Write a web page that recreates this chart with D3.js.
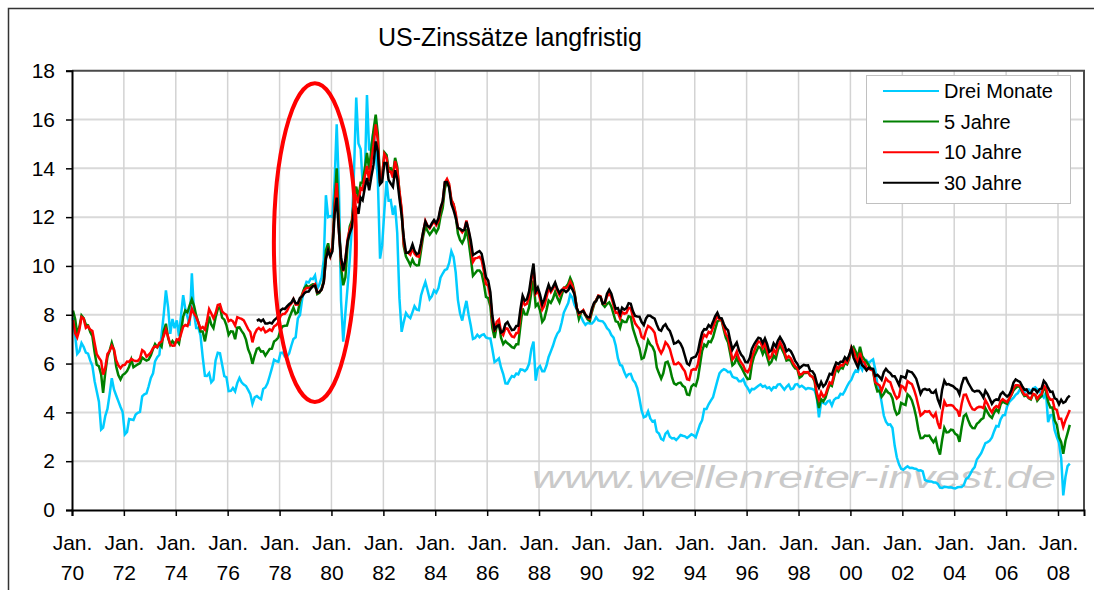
<!DOCTYPE html>
<html>
<head>
<meta charset="utf-8">
<script src="https://cdn.jsdelivr.net/npm/d3@7"></script>
<style>
  body { margin: 0; background: #fff; }
  svg { display: block; font-family: Arial, "Liberation Sans", sans-serif; }
</style>
</head>
<body>
<script>
// Monthly values, Jan 1970 - Jun 2008 (one row per year)
const threeMonth = [
  7.87, 7.13, 6.40, 6.51, 6.84, 6.68, 6.45, 6.41, 6.12, 5.91, 5.28, 4.87,
  4.44, 3.30, 3.38, 3.86, 4.14, 4.75, 5.40, 4.94, 4.69, 4.46, 4.22, 4.01,
  3.10, 3.20, 3.73, 3.71, 3.69, 3.91, 3.98, 4.02, 4.66, 4.74, 4.78, 5.07,
  5.41, 5.60, 6.09, 6.26, 6.36, 7.19, 8.01, 9.00, 8.29, 7.22, 7.83, 7.45,
  7.77, 7.12, 7.96, 8.80, 8.23, 7.90, 7.55, 9.70, 8.06, 7.46, 7.47, 7.15,
  6.26, 5.50, 5.49, 5.61, 5.23, 5.34, 6.13, 6.44, 6.42, 5.96, 5.48, 5.44,
  4.87, 4.88, 5.00, 4.86, 5.20, 5.41, 5.23, 5.14, 5.08, 4.92, 4.75, 4.35,
  4.62, 4.67, 4.60, 4.54, 4.96, 5.02, 5.19, 5.49, 5.81, 6.16, 6.10, 6.07,
  6.44, 6.45, 6.29, 6.29, 6.41, 6.73, 7.01, 7.08, 7.85, 7.99, 8.64, 9.08,
  9.35, 9.32, 9.48, 9.46, 9.61, 9.06, 9.24, 9.52, 10.26, 12.90, 12.00, 12.04,
  12.00, 13.50, 15.80, 13.20, 8.58, 6.90, 8.06, 9.13, 10.27, 11.62, 14.00, 16.90,
  15.02, 14.79, 13.36, 13.69, 17.00, 14.73, 14.95, 15.51, 14.70, 13.54, 10.30, 10.85,
  12.28, 13.48, 12.68, 12.70, 12.09, 12.47, 11.35, 8.68, 7.30, 7.71, 8.07, 7.94,
  7.86, 8.11, 8.35, 8.21, 8.19, 8.79, 9.08, 9.34, 9.00, 8.64, 8.76, 9.00,
  8.90, 9.09, 9.52, 9.69, 9.83, 9.87, 10.12, 10.60, 10.37, 9.74, 8.61, 8.06,
  7.76, 8.22, 8.57, 8.00, 7.56, 7.01, 7.05, 7.18, 7.08, 7.17, 7.20, 7.07,
  7.04, 7.03, 6.59, 6.06, 6.12, 6.21, 5.84, 5.57, 5.19, 5.18, 5.35, 5.49,
  5.45, 5.59, 5.56, 5.76, 5.75, 5.69, 5.78, 6.00, 6.60, 6.90, 5.30, 5.80,
  5.90, 5.69, 5.69, 5.92, 6.27, 6.50, 6.73, 7.02, 7.23, 7.34, 7.68, 8.09,
  8.29, 8.48, 8.83, 8.70, 8.40, 8.22, 7.92, 7.91, 7.72, 7.59, 7.67, 7.64,
  7.64, 7.74, 7.90, 7.77, 7.74, 7.73, 7.62, 7.45, 7.36, 7.17, 7.06, 6.74,
  6.22, 5.94, 5.91, 5.65, 5.46, 5.57, 5.58, 5.33, 5.22, 4.99, 4.56, 4.07,
  3.80, 3.84, 4.04, 3.75, 3.63, 3.66, 3.21, 3.13, 2.91, 2.86, 3.13, 3.22,
  3.00, 2.93, 2.95, 2.87, 2.96, 3.07, 3.04, 3.02, 2.95, 3.02, 3.10, 3.06,
  2.98, 3.25, 3.50, 3.68, 4.14, 4.14, 4.33, 4.48, 4.62, 4.95, 5.29, 5.60,
  5.71, 5.77, 5.73, 5.65, 5.67, 5.47, 5.42, 5.40, 5.28, 5.28, 5.36, 5.14,
  5.00, 4.83, 4.96, 4.95, 5.02, 5.09, 5.15, 5.05, 5.09, 4.99, 5.03, 4.91,
  5.03, 5.01, 5.14, 5.16, 5.05, 4.93, 5.05, 5.14, 4.95, 4.97, 5.14, 5.16,
  5.04, 5.09, 5.03, 4.95, 5.00, 4.98, 4.96, 4.90, 4.61, 3.80, 4.41, 4.39,
  4.34, 4.45, 4.48, 4.28, 4.51, 4.59, 4.60, 4.76, 4.73, 4.88, 5.07, 5.23,
  5.34, 5.57, 5.72, 5.67, 5.92, 5.74, 6.03, 6.13, 6.01, 6.11, 6.17, 5.77,
  5.15, 4.88, 4.42, 3.87, 3.62, 3.49, 3.51, 3.36, 2.64, 2.16, 1.87, 1.69,
  1.65, 1.73, 1.79, 1.72, 1.73, 1.70, 1.68, 1.62, 1.63, 1.58, 1.23, 1.19,
  1.17, 1.17, 1.13, 1.13, 1.07, 0.92, 0.90, 0.95, 0.94, 0.92, 0.93, 0.90,
  0.88, 0.93, 0.94, 0.94, 1.02, 1.27, 1.33, 1.48, 1.65, 1.76, 2.07, 2.19,
  2.33, 2.54, 2.74, 2.78, 2.84, 2.97, 3.22, 3.44, 3.42, 3.71, 3.88, 3.89,
  4.24, 4.43, 4.51, 4.60, 4.72, 4.79, 4.95, 4.96, 4.81, 4.92, 4.94, 4.85,
  4.98, 5.03, 4.94, 4.87, 4.73, 4.61, 4.82, 3.60, 3.89, 3.90, 3.27, 3.00,
  2.75, 2.12, 0.60, 1.35, 1.80, 1.90
];

const fiveYear = [
  8.17, 7.82, 7.21, 7.50, 7.97, 7.85, 7.59, 7.57, 7.29, 7.12, 6.47, 5.95,
  5.89, 5.56, 4.80, 5.65, 6.28, 6.53, 6.85, 6.55, 5.88, 5.53, 5.35, 5.53,
  5.59, 5.69, 5.87, 6.17, 5.85, 5.91, 5.97, 6.02, 6.25, 6.18, 6.12, 6.16,
  6.34, 6.60, 6.80, 6.67, 6.80, 6.69, 7.33, 7.63, 7.05, 6.77, 6.92, 6.80,
  6.95, 6.82, 7.31, 7.92, 8.18, 8.10, 8.38, 8.63, 8.37, 7.97, 7.68, 7.31,
  7.31, 6.91, 7.35, 7.93, 7.60, 7.45, 7.89, 8.23, 8.33, 7.88, 7.80, 7.57,
  7.18, 7.32, 7.31, 7.00, 7.47, 7.48, 7.34, 7.21, 6.98, 6.59, 6.37, 5.99,
  6.33, 6.60, 6.64, 6.49, 6.50, 6.33, 6.46, 6.60, 6.61, 6.90, 6.97, 7.07,
  7.39, 7.53, 7.55, 7.56, 7.85, 8.08, 8.29, 8.04, 8.10, 8.54, 8.84, 9.08,
  9.20, 9.13, 9.20, 9.25, 9.24, 8.85, 8.90, 9.06, 9.41, 10.63, 10.93, 10.42,
  10.74, 12.60, 14.00, 11.84, 9.95, 9.21, 9.53, 10.84, 11.62, 11.86, 12.83, 13.25,
  12.77, 13.41, 13.41, 13.99, 14.63, 13.95, 14.79, 15.56, 16.20, 15.41, 13.38, 13.60,
  14.65, 14.54, 13.98, 14.00, 13.75, 14.43, 14.07, 13.00, 12.25, 10.80, 10.38, 10.22,
  10.03, 10.26, 10.08, 10.02, 10.03, 10.63, 11.21, 11.63, 11.43, 11.28, 11.41, 11.54,
  11.37, 11.54, 12.02, 12.37, 13.17, 13.48, 13.27, 12.68, 12.53, 12.06, 11.33, 11.07,
  10.93, 11.13, 11.52, 11.01, 10.34, 9.60, 9.70, 9.81, 9.81, 9.69, 9.28, 8.73,
  8.68, 8.34, 7.46, 7.05, 7.52, 7.64, 7.06, 6.80, 6.92, 6.83, 6.76, 6.67,
  6.64, 6.79, 6.79, 7.57, 8.26, 8.02, 8.01, 8.32, 8.94, 9.40, 8.35, 8.45,
  8.18, 7.71, 7.83, 8.19, 8.58, 8.49, 8.66, 8.94, 8.69, 8.51, 8.79, 9.09,
  9.15, 9.27, 9.51, 9.30, 8.91, 8.29, 7.83, 8.09, 8.17, 7.97, 7.81, 7.75,
  8.12, 8.42, 8.60, 8.77, 8.74, 8.43, 8.33, 8.44, 8.51, 8.33, 8.02, 7.73,
  7.70, 7.47, 7.77, 7.70, 7.70, 7.94, 7.91, 7.43, 7.14, 6.87, 6.62, 6.19,
  6.24, 6.58, 6.95, 6.78, 6.69, 6.48, 5.84, 5.60, 5.38, 5.60, 6.04, 6.08,
  5.83, 5.43, 5.19, 5.13, 5.20, 5.22, 5.09, 5.03, 4.73, 4.71, 5.06, 5.15,
  5.09, 5.40, 5.94, 6.52, 6.78, 6.70, 6.91, 6.88, 7.08, 7.40, 7.72, 7.78,
  7.76, 7.37, 7.05, 6.86, 6.41, 5.93, 6.01, 6.24, 6.00, 5.86, 5.69, 5.51,
  5.36, 5.38, 5.97, 6.30, 6.48, 6.69, 6.64, 6.39, 6.60, 6.27, 5.97, 6.07,
  6.33, 6.20, 6.54, 6.76, 6.57, 6.38, 6.12, 6.16, 6.11, 5.93, 5.80, 5.77,
  5.42, 5.49, 5.61, 5.61, 5.63, 5.52, 5.46, 5.27, 4.62, 4.18, 4.54, 4.45,
  4.60, 4.91, 5.14, 5.08, 5.44, 5.81, 5.68, 5.84, 5.80, 6.03, 5.97, 6.19,
  6.58, 6.68, 6.50, 6.26, 6.69, 6.30, 6.18, 6.06, 5.93, 5.78, 5.70, 5.17,
  4.86, 4.89, 4.64, 4.76, 4.93, 4.81, 4.76, 4.57, 4.12, 3.91, 3.97, 4.39,
  4.34, 4.30, 4.74, 4.65, 4.49, 4.19, 3.81, 3.29, 2.94, 2.95, 3.05, 3.03,
  3.05, 2.90, 2.78, 2.93, 2.52, 2.27, 2.87, 3.37, 3.18, 3.19, 3.29, 3.27,
  3.12, 3.07, 2.79, 3.39, 3.85, 3.93, 3.69, 3.47, 3.36, 3.35, 3.53, 3.60,
  3.71, 3.77, 4.17, 4.00, 3.85, 3.77, 3.98, 4.12, 4.01, 4.33, 4.45, 4.39,
  4.35, 4.57, 4.72, 4.90, 5.00, 5.07, 5.04, 4.82, 4.67, 4.69, 4.58, 4.53,
  4.75, 4.71, 4.48, 4.59, 4.67, 5.03, 4.88, 4.43, 4.20, 4.20, 3.67, 3.49,
  2.98, 2.78, 2.30, 2.84, 3.15, 3.49
];

const tenYear = [
  7.79, 7.24, 7.07, 7.39, 7.91, 7.84, 7.46, 7.53, 7.39, 7.33, 6.84, 6.39,
  6.24, 6.11, 5.55, 5.83, 6.39, 6.52, 6.73, 6.58, 6.14, 5.93, 5.81, 5.93,
  5.95, 6.08, 6.07, 6.19, 6.13, 6.11, 6.11, 6.21, 6.55, 6.48, 6.28, 6.36,
  6.46, 6.64, 6.71, 6.67, 6.85, 6.90, 7.13, 7.40, 7.09, 6.79, 6.73, 6.74,
  6.99, 6.96, 7.21, 7.51, 7.58, 7.54, 7.81, 8.25, 8.04, 7.90, 7.68, 7.43,
  7.50, 7.39, 7.73, 8.23, 8.06, 7.86, 8.06, 8.40, 8.43, 8.14, 8.05, 8.00,
  7.74, 7.79, 7.73, 7.56, 7.90, 7.86, 7.83, 7.77, 7.59, 7.41, 7.29, 6.87,
  7.21, 7.39, 7.46, 7.37, 7.46, 7.28, 7.33, 7.40, 7.34, 7.52, 7.58, 7.69,
  7.96, 8.03, 8.04, 8.15, 8.35, 8.46, 8.64, 8.41, 8.42, 8.64, 8.81, 9.01,
  9.10, 9.10, 9.12, 9.18, 9.25, 8.91, 8.95, 9.03, 9.33, 10.30, 10.65, 10.39,
  10.80, 12.41, 13.40, 11.47, 10.18, 9.78, 10.25, 11.10, 11.51, 11.75, 12.68, 12.84,
  12.57, 13.19, 13.12, 13.68, 14.10, 13.47, 14.28, 14.94, 15.80, 15.15, 13.39, 13.72,
  14.59, 14.43, 13.86, 13.87, 13.62, 14.30, 13.95, 13.06, 12.34, 10.91, 10.55, 10.54,
  10.46, 10.72, 10.51, 10.40, 10.38, 10.85, 11.38, 11.85, 11.65, 11.54, 11.69, 11.83,
  11.67, 11.84, 12.32, 12.63, 13.41, 13.56, 13.36, 12.72, 12.52, 12.16, 11.57, 11.50,
  11.38, 11.51, 11.86, 11.43, 10.85, 10.16, 10.31, 10.33, 10.37, 10.24, 9.78, 9.26,
  9.19, 8.70, 7.78, 7.30, 7.71, 7.80, 7.30, 7.17, 7.45, 7.43, 7.25, 7.11,
  7.08, 7.25, 7.25, 8.02, 8.61, 8.40, 8.45, 8.76, 9.42, 9.90, 8.86, 8.99,
  8.67, 8.21, 8.37, 8.72, 9.09, 8.92, 9.06, 9.26, 8.98, 8.80, 8.96, 9.11,
  9.09, 9.17, 9.36, 9.18, 8.86, 8.28, 8.02, 8.11, 8.19, 8.01, 7.87, 7.84,
  8.21, 8.47, 8.59, 8.79, 8.76, 8.48, 8.47, 8.75, 8.89, 8.72, 8.39, 8.08,
  8.09, 7.85, 8.11, 8.04, 8.07, 8.28, 8.27, 7.90, 7.65, 7.53, 7.42, 7.09,
  7.03, 7.34, 7.54, 7.48, 7.39, 7.26, 6.84, 6.59, 6.42, 6.59, 6.87, 6.77,
  6.60, 6.26, 5.98, 5.97, 6.04, 5.96, 5.81, 5.68, 5.36, 5.33, 5.72, 5.77,
  5.75, 5.97, 6.48, 6.97, 7.18, 7.10, 7.30, 7.24, 7.46, 7.74, 7.96, 7.81,
  7.78, 7.47, 7.20, 7.06, 6.63, 6.17, 6.28, 6.49, 6.20, 6.04, 5.93, 5.71,
  5.65, 5.81, 6.27, 6.51, 6.74, 6.91, 6.87, 6.64, 6.83, 6.53, 6.20, 6.30,
  6.58, 6.42, 6.69, 6.89, 6.71, 6.49, 6.22, 6.30, 6.21, 6.03, 5.88, 5.81,
  5.54, 5.57, 5.65, 5.64, 5.65, 5.50, 5.46, 5.34, 4.81, 4.53, 4.83, 4.65,
  4.72, 5.00, 5.23, 5.18, 5.54, 5.90, 5.79, 5.94, 5.92, 6.11, 6.03, 6.28,
  6.66, 6.52, 6.26, 5.99, 6.44, 6.10, 6.05, 5.83, 5.80, 5.74, 5.72, 5.24,
  5.16, 5.10, 4.89, 5.14, 5.39, 5.28, 5.24, 4.97, 4.73, 4.57, 4.65, 5.09,
  5.04, 4.91, 5.28, 5.21, 5.16, 4.93, 4.65, 4.26, 3.87, 3.94, 4.05, 4.03,
  4.05, 3.90, 3.81, 3.96, 3.57, 3.33, 3.98, 4.45, 4.27, 4.29, 4.30, 4.27,
  4.15, 4.08, 3.83, 4.35, 4.72, 4.73, 4.50, 4.28, 4.13, 4.10, 4.19, 4.23,
  4.22, 4.17, 4.50, 4.34, 4.14, 4.00, 4.18, 4.26, 4.20, 4.46, 4.54, 4.47,
  4.42, 4.57, 4.72, 4.99, 5.11, 5.11, 5.09, 4.88, 4.72, 4.73, 4.60, 4.56,
  4.76, 4.72, 4.56, 4.69, 4.75, 5.10, 5.00, 4.67, 4.52, 4.53, 4.15, 4.10,
  3.74, 3.74, 3.40, 3.68, 3.88, 4.10
];

// 30-year series starts Feb 1977
const thirtyYear = [
  7.75, 7.80, 7.73, 7.80, 7.64, 7.64, 7.68, 7.64, 7.77, 7.85, 7.94,
  8.18, 8.25, 8.23, 8.34, 8.43, 8.50, 8.65, 8.47, 8.47, 8.69, 8.75, 8.88,
  8.94, 8.95, 9.07, 9.17, 9.19, 8.92, 8.93, 9.03, 9.33, 10.30, 10.65, 10.39,
  10.60, 12.13, 12.80, 11.40, 10.36, 9.81, 10.24, 11.00, 11.34, 11.59, 12.37, 12.40,
  12.14, 12.80, 12.69, 13.20, 13.60, 13.10, 13.64, 14.14, 15.10, 14.68, 13.35, 13.45,
  14.22, 14.22, 13.53, 13.37, 13.24, 13.92, 13.55, 12.77, 12.07, 11.17, 10.54, 10.54,
  10.63, 10.88, 10.63, 10.48, 10.53, 10.93, 11.40, 11.82, 11.63, 11.58, 11.75, 11.88,
  11.75, 11.95, 12.38, 12.65, 13.43, 13.44, 13.21, 12.54, 12.29, 11.98, 11.56, 11.52,
  11.45, 11.47, 11.81, 11.47, 11.05, 10.45, 10.50, 10.56, 10.61, 10.50, 10.06, 9.54,
  9.40, 8.93, 7.96, 7.39, 7.52, 7.57, 7.27, 7.33, 7.62, 7.70, 7.52, 7.37,
  7.39, 7.54, 7.55, 8.25, 8.78, 8.57, 8.64, 8.97, 9.59, 10.10, 8.95, 9.12,
  8.83, 8.43, 8.63, 8.95, 9.23, 9.00, 9.14, 9.32, 9.06, 8.89, 9.02, 9.01,
  8.93, 9.01, 9.17, 9.03, 8.83, 8.27, 8.08, 8.12, 8.15, 8.00, 7.90, 7.90,
  8.26, 8.50, 8.56, 8.76, 8.73, 8.46, 8.50, 8.86, 9.03, 8.86, 8.54, 8.24,
  8.27, 8.03, 8.29, 8.21, 8.27, 8.47, 8.45, 8.14, 7.95, 7.93, 7.92, 7.70,
  7.58, 7.85, 7.97, 7.96, 7.89, 7.84, 7.60, 7.39, 7.34, 7.53, 7.61, 7.44,
  7.34, 7.09, 6.82, 6.85, 6.92, 6.81, 6.63, 6.32, 6.00, 5.94, 6.21, 6.25,
  6.29, 6.49, 6.91, 7.27, 7.41, 7.40, 7.58, 7.49, 7.71, 7.94, 8.08, 7.87,
  7.85, 7.61, 7.45, 7.36, 6.95, 6.57, 6.72, 6.86, 6.55, 6.37, 6.26, 6.06,
  6.05, 6.24, 6.60, 6.79, 6.93, 7.06, 7.03, 6.84, 7.03, 6.81, 6.48, 6.55,
  6.83, 6.69, 6.93, 7.09, 6.94, 6.77, 6.51, 6.58, 6.50, 6.33, 6.11, 5.99,
  5.81, 5.89, 5.95, 5.92, 5.93, 5.70, 5.68, 5.54, 5.20, 5.01, 5.25, 5.06,
  5.16, 5.37, 5.58, 5.55, 5.81, 6.04, 5.98, 6.07, 6.07, 6.26, 6.15, 6.35,
  6.63, 6.23, 6.05, 5.85, 6.15, 5.93, 5.85, 5.72, 5.83, 5.80, 5.78, 5.49,
  5.54, 5.45, 5.34, 5.65, 5.78, 5.67, 5.61, 5.48, 5.48, 5.32, 5.12, 5.48,
  5.45, 5.40, 5.71, 5.67, 5.64, 5.52, 5.38, 5.08, 4.76, 4.93, 4.96, 4.92,
  4.94, 4.81, 4.80, 4.90, 4.53, 4.30, 4.93, 5.30, 5.14, 5.16, 5.11, 5.08,
  4.99, 4.93, 4.74, 5.14, 5.40, 5.41, 5.22, 5.06, 4.90, 4.85, 4.89, 4.88,
  4.77, 4.61, 4.89, 4.75, 4.56, 4.35, 4.48, 4.53, 4.51, 4.74, 4.83, 4.73,
  4.65, 4.73, 4.91, 5.22, 5.35, 5.29, 5.25, 5.08, 4.93, 4.94, 4.78, 4.78,
  4.95, 4.93, 4.81, 4.95, 4.98, 5.29, 5.19, 5.00, 4.84, 4.85, 4.58, 4.53,
  4.33, 4.52, 4.39, 4.44, 4.60, 4.69
];

const seriesNames = ["Drei Monate", "5 Jahre", "10 Jahre", "30 Jahre"];
const seriesColors = ["#00ccff", "#008000", "#ff0000", "#000000"];
const tickYears = d3.range(1970, 2009, 2);
const yTicks = d3.range(0, 19, 2);

const width = 1094, height = 590;
const margin = {left: 72, right: 1084, top: 70.7, bottom: 510};

const svg = d3.select("body").append("svg")
  .attr("width", width)
  .attr("height", height);

const x = d3.scaleUtc()
  .domain([new Date(Date.UTC(1970, 0, 1)), new Date(Date.UTC(2009, 0, 1))])
  .range([margin.left, margin.right]);
const xYear = d3.scaleLinear().domain([1970, 2009]).range([margin.left, margin.right]);
const y = d3.scaleLinear().domain([0, 18]).range([margin.bottom, margin.top]);

// monthly points, mid-month
function toPoints(values, year, month) {
  return values.map((v, i) => ({date: new Date(Date.UTC(year, month + i, 15)), value: v}));
}

const series = [
  toPoints(threeMonth, 1970, 0),
  toPoints(fiveYear, 1970, 0),
  toPoints(tenYear, 1970, 0),
  toPoints(thirtyYear, 1977, 1)
];

// outer chart frame (only left/top edges visible in the crop)
svg.append("rect")
  .attr("x", 8.5).attr("y", 8.5)
  .attr("width", 1100).attr("height", 600)
  .attr("fill", "none")
  .attr("stroke", "#333")
  .attr("stroke-width", 1.5);

// title
svg.append("text")
  .attr("x", 510)
  .attr("y", 46)
  .attr("text-anchor", "middle")
  .style("font-size", "25px")
  .text("US-Zinssätze langfristig");

// grid
svg.append("g").selectAll("line")
  .data(yTicks.filter(d => d > 0 && d < 18))
  .enter().append("line")
  .attr("x1", margin.left).attr("x2", margin.right)
  .attr("y1", d => y(d)).attr("y2", d => y(d))
  .attr("stroke", "#d9d9d9")
  .attr("stroke-width", 2);

svg.append("g").selectAll("line")
  .data(tickYears.slice(1))
  .enter().append("line")
  .attr("x1", d => x(new Date(Date.UTC(d, 0, 1))))
  .attr("x2", d => x(new Date(Date.UTC(d, 0, 1))))
  .attr("y1", margin.top).attr("y2", margin.bottom)
  .attr("stroke", "#d3d3d3")
  .attr("stroke-width", 1.5);

// watermark
svg.append("text")
  .attr("x", 532)
  .attr("y", 488)
  .attr("textLength", 524)
  .attr("lengthAdjust", "spacingAndGlyphs")
  .style("font-size", "31px")
  .style("font-style", "italic")
  .attr("fill", "#cacaca")
  .text("www.wellenreiter-invest.de");

// plot frame top / right
svg.append("path")
  .attr("d", `M${margin.left},${margin.top}H${margin.right}V${margin.bottom}`)
  .attr("fill", "none")
  .attr("stroke", "#4a4a4a")
  .attr("stroke-width", 2);

// lines
const line = d3.line()
  .x(d => x(d.date))
  .y(d => y(d.value));

svg.append("g").selectAll("path")
  .data(series)
  .enter().append("path")
  .attr("d", line)
  .attr("fill", "none")
  .attr("stroke", (d, i) => seriesColors[i])
  .attr("stroke-width", 2.5)
  .attr("stroke-linejoin", "miter");

// axes
const yAxis = d3.axisLeft(y).tickValues(yTicks).tickSize(6).tickPadding(11);
const yg = svg.append("g")
  .attr("transform", `translate(${margin.left},0)`)
  .call(yAxis);
yg.select(".domain").attr("stroke", "#000").attr("stroke-width", 2);
yg.selectAll(".tick line").attr("stroke", "#000").attr("stroke-width", 1.5);
yg.selectAll(".tick text")
  .style("font-size", "21px")
  .style("font-family", "Arial, 'Liberation Sans', sans-serif")
  .attr("fill", "#000");

const xAxis = d3.axisBottom(x)
  .tickValues(tickYears.map(d => new Date(Date.UTC(d, 0, 1))))
  .tickSize(6)
  .tickFormat("");
const xg = svg.append("g")
  .attr("transform", `translate(0,${margin.bottom})`)
  .call(xAxis);
xg.select(".domain").attr("stroke", "#000").attr("stroke-width", 2);
xg.selectAll(".tick line").attr("stroke", "#000").attr("stroke-width", 1.5);
xg.selectAll(".tick text").remove();
xg.selectAll(".tick").each(function(d) {
  const t = d3.select(this).append("text")
    .attr("text-anchor", "middle")
    .attr("fill", "#000")
    .style("font-size", "21px")
    .style("font-family", "Arial, 'Liberation Sans', sans-serif");
  t.append("tspan").attr("x", 0).attr("y", 40).text("Jan.");
  t.append("tspan").attr("x", 0).attr("y", 70).text(String(d.getUTCFullYear() % 100).padStart(2, "0"));
});

// red annotation ellipse around 1979/80
const marker = {year: 1979.36, value: 10.96, halfYears: 1.58, halfValue: 6.53};
svg.append("ellipse")
  .attr("cx", xYear(marker.year))
  .attr("cy", y(marker.value))
  .attr("rx", xYear(1970 + marker.halfYears) - xYear(1970))
  .attr("ry", y(0) - y(marker.halfValue))
  .attr("fill", "none")
  .attr("stroke", "#ff0000")
  .attr("stroke-width", 4);

// legend
const legend = svg.append("g").attr("id", "legend");
legend.append("rect")
  .attr("x", 866.5).attr("y", 75.5)
  .attr("width", 204).attr("height", 128)
  .attr("fill", "#fff")
  .attr("stroke", "#c0c0c0")
  .attr("stroke-width", 1);

const rows = legend.selectAll("g.row")
  .data(seriesNames)
  .enter().append("g")
  .attr("class", "row")
  .attr("transform", (d, i) => `translate(0,${91 + i * 30.6})`);
rows.append("line")
  .attr("x1", 883).attr("x2", 939)
  .attr("y1", 0).attr("y2", 0)
  .attr("stroke", (d, i) => seriesColors[i])
  .attr("stroke-width", 2);
rows.append("text")
  .attr("x", 944)
  .attr("y", 7)
  .style("font-size", "20px")
  .text(d => d);
</script>
</body>
</html>
